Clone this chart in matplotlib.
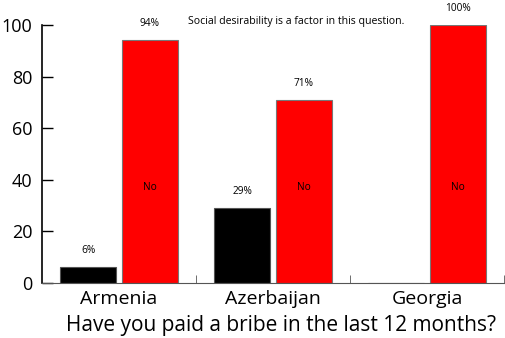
import matplotlib
matplotlib.use("Agg")
import matplotlib.pyplot as plt
import numpy as np

categories = ["Armenia", "Azerbaijan", "Georgia"]
yes_values = [6, 29, 0]
no_values = [94, 71, 100]
yes_labels = ["6%", "29%", ""]
no_labels = ["94%", "71%", "100%"]
yticks = [0, 20, 40, 60, 80, 100]

plt.rcParams['font.family'] = ['Open Sans', 'DejaVu Sans']

fig = plt.figure(figsize=(5.06, 3.38), dpi=100)
ax = fig.add_axes([0.083, 0.163, 0.913, 0.763])

x = np.arange(len(categories))
w = 0.364
off = 0.201
ax.bar(x - off, yes_values, w, color="black", edgecolor="#555555", linewidth=0.8)
ax.bar(x + off, no_values, w, color="#ff0000", edgecolor="#777777", linewidth=0.8)

small = 7.3
for i in range(len(categories)):
    if yes_labels[i]:
        ax.text(x[i] - off, yes_values[i] + 6.5, yes_labels[i], ha="center", va="center", fontsize=small, clip_on=False)
    ax.text(x[i] + off, no_values[i] + 6.5, no_labels[i], ha="center", va="center", fontsize=small, clip_on=False)
    ax.text(x[i] + off, 37, "No", ha="center", va="center", fontsize=small)

ax.text(1.15, 101.2, "Social desirability is a factor in this question.", ha="center", va="center", fontsize=7.6)

ax.set_xlim(-0.5, 2.5)
ax.set_ylim(0, 100)
ax.set_yticks(yticks)
ax.tick_params(axis="y", direction="in", length=8, width=1, labelsize=13, pad=7)
ax.set_xticks(x)
ax.set_xticklabels(categories, fontsize=14)
ax.tick_params(axis="x", which="major", length=0, pad=5)
ax.set_xticks([0.5, 1.5, 2.5], minor=True)
ax.tick_params(axis="x", which="minor", direction="in", length=6, color="#555555")
ax.set_xlabel("Have you paid a bribe in the last 12 months?", fontsize=15, labelpad=0)
ax.xaxis.set_label_coords(0.517, -0.125)

for s in ["top", "right"]:
    ax.spines[s].set_visible(False)
ax.spines["bottom"].set_color("#555555")
ax.spines["left"].set_linewidth(1.2)

fig.savefig("out.png", dpi=100)
